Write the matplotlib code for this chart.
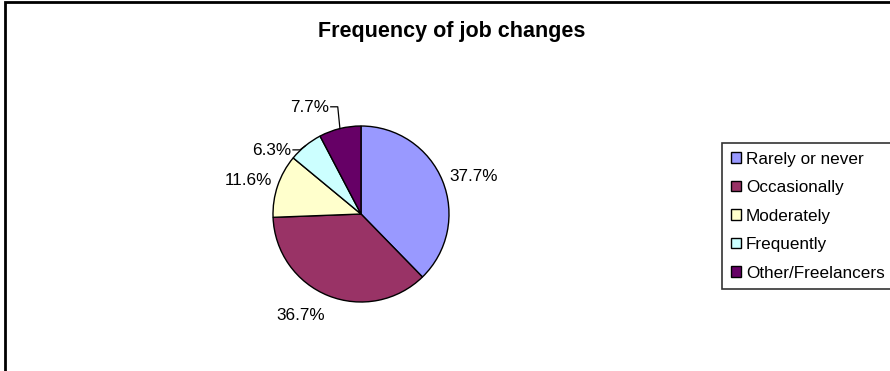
import numpy as np
import matplotlib.pyplot as plt
from matplotlib.patches import Rectangle

plt.rcParams['font.family'] = ['Liberation Sans', 'DejaVu Sans']

# Data
categories = ["Rarely or never", "Occasionally", "Moderately", "Frequently", "Other/Freelancers"]
shares = [37.7, 36.7, 11.6, 6.3, 7.7]
colors = ["#9999FF", "#993366", "#FFFFCC", "#CCFFFF", "#660066"]

W, H = 890, 371
fig = plt.figure(figsize=(W / 100, H / 100), dpi=100)
ax = fig.add_axes([0, 0, 1, 1])

# pie placed in pixel-like data coordinates
cx, cy, r = 361, H - 214, 88
wedges, _ = ax.pie(shares, colors=colors, startangle=90, counterclock=False,
                   center=(cx, cy), radius=r,
                   wedgeprops=dict(edgecolor="black", linewidth=1.0))
ax.set_xlim(0, W)
ax.set_ylim(0, H)
ax.set_aspect("equal")
ax.axis("off")

# label positions (radial distance, angle offset in degrees) tuned like Excel placement
label_dist = [1.35, 1.34, 1.33, 1.24, 1.34]
angle_shift = [-3.5, -8.7, 2.3, 15.6, 11.9]
leader = [False, False, False, True, True]
for w, val, d, sh, ld in zip(wedges, shares, label_dist, angle_shift, leader):
    mid = np.deg2rad((w.theta1 + w.theta2) / 2)
    ang = mid + np.deg2rad(sh)
    tx, ty = cx + d * r * np.cos(ang), cy + d * r * np.sin(ang)
    t = ax.text(tx, ty, f"{val:.1f}%", ha="center", va="center", fontsize=12.3)
    if ld:
        ex, ey = cx + r * np.cos(mid), cy + r * np.sin(mid)
        x0 = tx + 21
        ax.plot([x0, x0 + 7, ex], [ty + 1, ty + 1, ey], color="black", lw=0.9)

fig.suptitle("Frequency of job changes", x=452 / W, y=1 - 31 / H, va="center",
             fontsize=15.5, fontweight="bold")

# outer chart frame (right and bottom edges fall outside the image)
fig.patches.append(Rectangle((4.5 / W, -0.1), 1.2, 1.1 - 2 / H, transform=fig.transFigure,
                             fill=False, edgecolor="black", linewidth=2.0))

leg = ax.legend(wedges, categories, loc="upper left",
                bbox_to_anchor=(722 / W, 1 - 143 / H), bbox_transform=fig.transFigure,
                fontsize=12.3, frameon=True, fancybox=False, shadow=False,
                borderaxespad=0, borderpad=0.5, handlelength=0.6, handleheight=0.6,
                handletextpad=0.3, labelspacing=0.79)
leg.get_frame().set_edgecolor("black")
leg.get_frame().set_linewidth(1.2)
for h in leg.legend_handles:
    h.set_edgecolor("black")
    h.set_linewidth(1.0)

fig.savefig("out.png", dpi=100)
